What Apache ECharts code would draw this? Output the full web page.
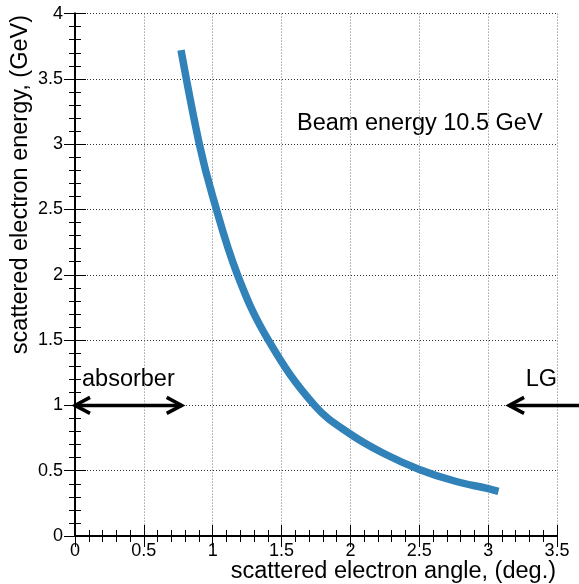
<!DOCTYPE html>
<html>
<head>
<meta charset="utf-8">
<script src="https://cdn.jsdelivr.net/npm/echarts@6/dist/echarts.min.js"></script>
<style>
  html, body { margin: 0; padding: 0; background: #fff; }
  #chart { width: 579px; height: 584px; }
</style>
</head>
<body>
<div id="chart"></div>
<script>
// Scattered electron energy vs scattering angle, 10.5 GeV beam
const angleDeg  = [0.770, 0.903, 1.000, 1.180, 1.404, 1.740, 2.000, 2.250, 2.500, 2.750, 3.000, 3.075];
const energyGeV = [3.72, 3.00, 2.60, 2.00, 1.50, 1.00, 0.780, 0.628, 0.510, 0.423, 0.362, 0.342];

// Detector acceptance arrows: [xFrom, y, xTo, y, headAtFrom, headAtTo]
const absorberArrow = [0, 1, 0.775, 1, 1, 1];
const lgArrow       = [3.66, 1, 3.152, 1, 0, 1];

const xRange = [0, 3.5];
const yRange = [0, 4];
const tickStep = 0.5;

const FONT = '"Liberation Sans", Arial, Helvetica, sans-serif';
const TEXT_FONT = '23.5px ' + FONT;

const chart = echarts.init(document.getElementById('chart'), null, { renderer: 'canvas' });

const frameLine = { show: true, lineStyle: { color: '#000', width: 2 } };
const majorTick = { show: true, inside: true, length: 11, lineStyle: { color: '#000', width: 1 } };
const minorTick = { show: true, splitNumber: 5, length: 6, lineStyle: { color: '#000', width: 1 } };

function arrowItem(params, api) {
  const p1 = api.coord([api.value(0), api.value(1)]);
  const p2 = api.coord([api.value(2), api.value(3)]);
  const dx = p2[0] - p1[0], dy = p2[1] - p1[1];
  const len = Math.sqrt(dx * dx + dy * dy) || 1;
  const ux = dx / len, uy = dy / len;
  const hl = 15, hw = 8;
  const stroke = { stroke: '#000', lineWidth: 3.5, fill: null, lineJoin: 'miter', lineCap: 'butt' };
  const children = [{
    type: 'line',
    shape: { x1: p1[0], y1: p1[1], x2: p2[0], y2: p2[1] },
    style: stroke
  }];
  function head(tip, sx, sy) {
    children.push({
      type: 'polyline',
      shape: { points: [
        [tip[0] + sx * hl - sy * hw, tip[1] + sy * hl + sx * hw],
        [tip[0], tip[1]],
        [tip[0] + sx * hl + sy * hw, tip[1] + sy * hl - sx * hw]
      ] },
      style: stroke
    });
  }
  if (api.value(5)) head(p2, -ux, -uy);
  if (api.value(4)) head(p1, ux, uy);
  return { type: 'group', children: children };
}

chart.setOption({
  animation: false,
  backgroundColor: '#fff',
  grid: { left: 75, right: 22, top: 13.6, bottom: 48, containLabel: false },
  xAxis: [{
    type: 'value', min: xRange[0], max: xRange[1], interval: tickStep,
    axisLine: frameLine, axisTick: majorTick, minorTick: minorTick,
    splitLine: { show: true, lineStyle: { color: '#777', width: 1, type: [1, 2] } },
    minorSplitLine: { show: false },
    axisLabel: { color: '#000', fontSize: 18, fontFamily: FONT, margin: 6,
      formatter: v => String(+v.toFixed(1)) }
  }, {
    type: 'value', position: 'top', min: xRange[0], max: xRange[1], interval: tickStep,
    axisLine: frameLine, axisTick: majorTick, minorTick: minorTick,
    splitLine: { show: false }, axisLabel: { show: false }
  }],
  yAxis: [{
    type: 'value', min: yRange[0], max: yRange[1], interval: tickStep,
    axisLine: frameLine, axisTick: majorTick, minorTick: minorTick,
    splitLine: { show: true, lineStyle: { color: '#333', width: 1, type: [1, 2] } },
    minorSplitLine: { show: false },
    axisLabel: { color: '#000', fontSize: 18, fontFamily: FONT, margin: 12,
      formatter: v => String(+v.toFixed(1)) }
  }, {
    type: 'value', position: 'right', min: yRange[0], max: yRange[1], interval: tickStep,
    axisLine: frameLine, axisTick: majorTick, minorTick: minorTick,
    splitLine: { show: false }, axisLabel: { show: false }
  }],
  series: [{
    type: 'line',
    xAxisIndex: 0, yAxisIndex: 0,
    data: angleDeg.map((a, i) => [a, energyGeV[i]]),
    smooth: 0.4,
    showSymbol: false,
    lineStyle: { color: '#3182b8', width: 7.5, cap: 'butt' },
    z: 5
  }, {
    type: 'custom',
    xAxisIndex: 0, yAxisIndex: 0,
    clip: false,
    renderItem: arrowItem,
    data: [absorberArrow, lgArrow],
    z: 6
  }],
  graphic: [
    { type: 'text', x: 297, y: 124, style: { text: 'Beam energy 10.5 GeV', font: TEXT_FONT, fill: '#000', verticalAlign: 'middle', align: 'left' } },
    { type: 'text', x: 82, y: 380, style: { text: 'absorber', font: TEXT_FONT, fill: '#000', verticalAlign: 'middle', align: 'left' } },
    { type: 'text', x: 557, y: 380, style: { text: 'LG', font: TEXT_FONT, fill: '#000', verticalAlign: 'middle', align: 'right' } },
    { type: 'text', x: 556, y: 572, style: { text: 'scattered electron angle, (deg.)', font: TEXT_FONT, fill: '#000', verticalAlign: 'middle', align: 'right' } },
    { type: 'text', x: 21, y: 15, rotation: Math.PI / 2, style: { text: 'scattered electron energy, (GeV)', font: TEXT_FONT, fill: '#000', verticalAlign: 'middle', align: 'right' } }
  ]
});
</script>
</body>
</html>
